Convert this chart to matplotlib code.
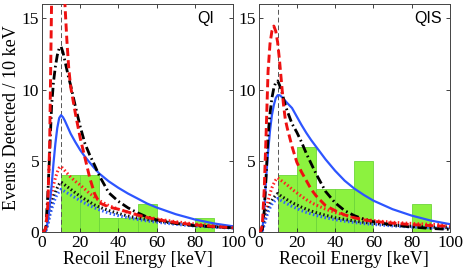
import matplotlib
matplotlib.use("Agg")
import matplotlib.pyplot as plt

# ---------------- data ----------------
energy = [0, 1, 2, 3, 4, 5, 6, 7, 8, 9, 10, 11, 12, 13, 14, 15, 17.5, 20, 22.5, 25,
          27.5, 30, 35, 40, 45, 50, 55, 60, 70, 80, 90, 100]

bin_edges = [0, 10, 20, 30, 40, 50, 60, 70, 80, 90, 100]
counts_qi = [0, 4, 4, 1, 1, 2, 0, 0, 1, 0]
counts_qis = [0, 4, 6, 3, 3, 5, 0, 0, 2, 0]

# QI panel
qi_red_dash = [0, 0, 0.3, 1.8, 6, 16, 23, 26, 27.5, 27.5, 25, 20, 16, 13.5, 11.5, 10.2,
               8.3, 6.6, 5.2, 3.8, 2.7, 2.05, 1.75, 1.6, 1.4, 1.2, 1.02, 0.88, 0.66, 0.5,
               0.38, 0.3]
qi_black_dd = [0, 0, 0.3, 2.5, 5.5, 8.8, 10.5, 11.6, 12.4, 12.9, 13.0, 12.6, 12.0, 11.4,
               10.8, 10.3, 8.8, 7.4, 6.2, 5.4, 4.7, 3.95, 2.75, 2.15, 1.7, 1.35, 1.05,
               0.85, 0.6, 0.44, 0.36, 0.3]
qi_blue = [0, 0, 0.1, 0.7, 1.8, 3.2, 4.8, 6.2, 7.3, 8.0, 8.2, 8.05, 7.8, 7.5, 7.2, 6.9,
           6.3, 5.75, 5.28, 4.87, 4.47, 4.1, 3.55, 3.1, 2.7, 2.35, 2.0, 1.72, 1.25, 0.88,
           0.6, 0.4]
qi_red_dot = [0, 0, 0.2, 0.8, 1.8, 2.6, 3.3, 3.8, 4.2, 4.5, 4.6, 4.45, 4.3, 4.15, 4.0,
              3.85, 3.55, 3.3, 3.0, 2.7, 2.45, 2.2, 1.85, 1.6, 1.38, 1.2, 1.05, 0.92,
              0.72, 0.56, 0.45, 0.36]
qi_black_dot = [0, 0, 0.15, 0.6, 1.3, 1.9, 2.4, 2.8, 3.1, 3.35, 3.5, 3.4, 3.3, 3.2, 3.1,
                3.0, 2.75, 2.5, 2.3, 2.1, 1.9, 1.75, 1.5, 1.3, 1.12, 0.98, 0.87, 0.77,
                0.6, 0.47, 0.38, 0.3]
qi_blue_dot = [0, 0, 0.1, 0.5, 1.1, 1.6, 2.0, 2.4, 2.65, 2.85, 3.0, 2.92, 2.84, 2.76,
               2.68, 2.6, 2.4, 2.2, 2.02, 1.85, 1.7, 1.56, 1.33, 1.15, 1.0, 0.88, 0.78,
               0.69, 0.54, 0.42, 0.34, 0.27]

# QIS panel
qis_red_dash = [0, 0, 0.5, 3, 7, 11.3, 13.2, 14.1, 14.45, 14.1, 13.3, 12.0, 10.5, 9.0,
                7.9, 7.3, 6.0, 4.9, 4.2, 3.6, 3.0, 2.55, 1.85, 1.5, 1.2, 1.0, 0.85, 0.75,
                0.62, 0.52, 0.45, 0.4]
qis_black_dd = [0, 0, 0.2, 1.5, 4, 6.8, 8.3, 9.4, 10.1, 10.5, 10.6, 10.3, 9.9, 9.4, 8.9,
                8.5, 7.6, 7.0, 6.3, 5.5, 4.8, 4.1, 2.85, 2.05, 1.5, 1.15, 0.9, 0.72, 0.5,
                0.35, 0.25, 0.18]
qis_blue = [0, 0, 0.1, 1.5, 3.8, 5.6, 7.1, 8.2, 8.9, 9.4, 9.6, 9.6, 9.5, 9.35, 9.2, 9.05,
            8.7, 8.1, 7.5, 6.95, 6.45, 6.0, 5.1, 4.3, 3.6, 3.05, 2.6, 2.2, 1.6, 1.15,
            0.8, 0.55]
qis_red_dot = [0, 0, 0.2, 0.8, 1.6, 2.2, 2.7, 3.1, 3.4, 3.65, 3.8, 3.7, 3.6, 3.5, 3.4,
               3.3, 3.0, 2.75, 2.5, 2.27, 2.07, 1.9, 1.6, 1.38, 1.18, 1.02, 0.9, 0.8,
               0.68, 0.6, 0.54, 0.5]
qis_black_dot = [0, 0, 0.15, 0.6, 1.2, 1.6, 1.95, 2.2, 2.42, 2.58, 2.7, 2.6, 2.5, 2.42,
                 2.34, 2.26, 2.06, 1.9, 1.74, 1.6, 1.47, 1.36, 1.17, 1.0, 0.88, 0.77,
                 0.68, 0.6, 0.48, 0.4, 0.34, 0.3]
qis_blue_dot = [0, 0, 0.1, 0.5, 1.0, 1.4, 1.7, 1.95, 2.12, 2.25, 2.35, 2.27, 2.2, 2.12,
                2.05, 1.98, 1.8, 1.65, 1.5, 1.38, 1.27, 1.17, 1.0, 0.87, 0.76, 0.67,
                0.59, 0.53, 0.43, 0.35, 0.29, 0.25]

threshold = 10
panel_labels = ["QI", "QIS"]
xticks = [0, 20, 40, 60, 80, 100]
yticks = [0, 5, 10, 15]

# ---------------- plotting ----------------
serif = ["Liberation Serif", "DejaVu Serif"]
sans = ["Liberation Sans", "DejaVu Sans"]

fig = plt.figure(figsize=(4.67, 2.71), dpi=100)
ax1 = fig.add_axes([42 / 467, 39 / 271, 191 / 467, 228 / 271])
ax2 = fig.add_axes([258.5 / 467, 39 / 271, 191.5 / 467, 228 / 271])

panels = [
    (ax1, counts_qi, qi_red_dash, qi_black_dd, qi_blue, qi_red_dot, qi_black_dot, qi_blue_dot,
     panel_labels[0], 0.857),
    (ax2, counts_qis, qis_red_dash, qis_black_dd, qis_blue, qis_red_dot, qis_black_dot,
     qis_blue_dot, panel_labels[1], 0.885),
]

for ax, counts, rdash, bdd, blu, rdot, bdot, bldot, lab, lx in panels:
    ax.bar(bin_edges[:-1], counts, width=10, align="edge", color="#8cf23f",
           edgecolor="#6dd63a", linewidth=0.6, zorder=1)
    ax.axvline(threshold, color="#555555", linestyle=(0, (5, 3)), linewidth=0.7, zorder=2)
    ax.plot(energy, rdot, color="#ff2020", linestyle=(0, (0.5, 0.8)), linewidth=2.2, zorder=3)
    ax.plot(energy, bdot, color="#111111", linestyle=(0, (0.5, 0.8)), linewidth=2.2, zorder=3)
    ax.plot(energy, bldot, color="#3060ff", linestyle=(0, (0.5, 0.8)), linewidth=2.2, zorder=3)
    ax.plot(energy, blu, color="#2d55ff", linestyle="-", linewidth=1.6, zorder=4)
    ax.plot(energy, bdd, color="#000000", linestyle=(0, (3.2, 1.2, 0.6, 1.2)), linewidth=2.0,
            zorder=4)
    ax.plot(energy, rdash, color="#ee1111", linestyle=(0, (2.8, 1.4)), linewidth=2.1, zorder=5)

    ax.set_xlim(0, 100)
    ax.set_ylim(0, 16)
    ax.set_xticks(xticks)
    ax.set_yticks(yticks)
    ax.tick_params(direction="in", top=True, right=True, length=3, width=0.6,
                   labelsize=12.5, pad=2, colors="#222222", labelcolor="black")
    for t in ax.get_xticklabels() + ax.get_yticklabels():
        t.set_fontfamily(serif)
    for s in ax.spines.values():
        s.set_linewidth(0.7)
        s.set_color("#444444")
    ax.set_xlabel("Recoil Energy [keV]", fontsize=13, family=serif, labelpad=0)
    ax.text(lx, 0.935, lab, transform=ax.transAxes, ha="center", va="center",
            fontsize=11.5, family=sans)

ax1.set_ylabel("Events Detected / 10 keV", fontsize=13, family=serif, labelpad=1)

fig.savefig("out.png", dpi=100)
